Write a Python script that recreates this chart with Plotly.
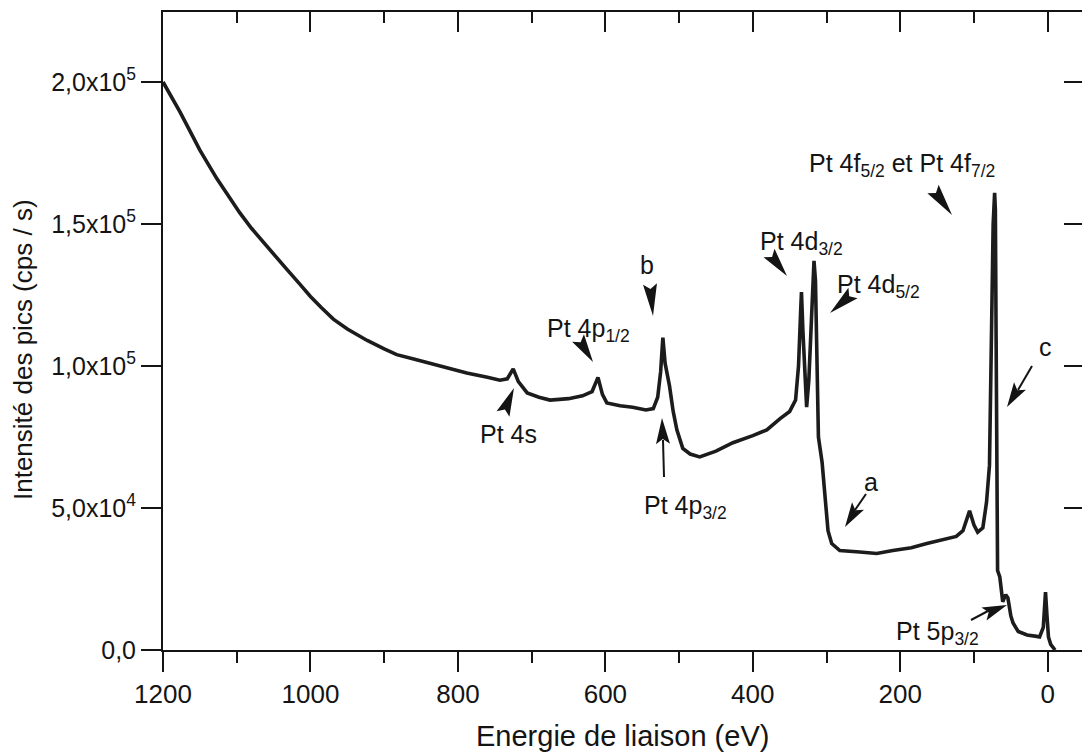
import math
import plotly.graph_objects as go

# ---------------- data ----------------
energy_ev = [1200, 1190, 1177, 1163, 1150, 1127, 1110, 1096, 1080, 1059, 1045, 1032, 1015,
             1000, 985, 969, 950, 923, 900, 883, 860, 834, 810, 788, 760, 743, 733, 725,
             718, 706, 690, 675, 650, 631, 618, 610, 604, 598, 580, 563, 545, 535, 529,
             525, 522, 519, 513, 508, 503, 495, 485, 472, 450, 427, 400, 381, 363, 350,
             342, 338, 335, 334, 332, 329, 327, 324, 320, 317, 315, 313, 311, 306, 302,
             298, 293, 282, 255, 232, 210, 185, 164, 140, 124, 115, 106, 100, 95, 88,
             83, 79, 76, 74, 72, 71, 70, 69, 68, 65, 61, 57, 54, 50, 47, 40, 28, 15, 11,
             6, 4, 3, 1, -1, -4, -7, -10]
intensity_cps = [200000, 195500, 189500, 182500, 176000, 166000, 159500, 154000, 148500,
                 142000, 138000, 134000, 129000, 124500, 120500, 116500, 113000, 109000,
                 106000, 104000, 102500, 100800, 99000, 97500, 96000, 95000, 95500, 99000,
                 94500, 90500, 89000, 88000, 88500, 89500, 91000, 96000, 90000, 87000,
                 86000, 85500, 84500, 85000, 89000, 98000, 110000, 101000, 93000, 84000,
                 77500, 71000, 69000, 68000, 70000, 73000, 75500, 77500, 81500, 84000,
                 88000, 100000, 120000, 126000, 112000, 92000, 85500, 95000, 120000,
                 137000, 130000, 95000, 75000, 66000, 54000, 42000, 37500, 35000, 34500,
                 34000, 35000, 36000, 37500, 39000, 40000, 42000, 49000, 44000, 41500,
                 43000, 52000, 65000, 110000, 150000, 161000, 155000, 110000, 50000, 28000,
                 25700, 17000, 19500, 18300, 12000, 9500, 6500, 5300, 4800, 4600, 8000,
                 15000, 20400, 12000, 4600, 2000, 800, 0]

x_tick_vals = [1200, 1000, 800, 600, 400, 200, 0]
x_tick_text = ["1200", "1000", "800", "600", "400", "200", "0"]
x_minor_vals = [1100, 900, 700, 500, 300, 100]
y_tick_vals = [0, 50000, 100000, 150000, 200000]
y_tick_text = ["0,0", "5,0x10<sup>4</sup>", "1,0x10<sup>5</sup>",
               "1,5x10<sup>5</sup>", "2,0x10<sup>5</sup>"]

x_title = "Energie de liaison (eV)"
y_title = "Intensité des pics (cps / s)"

# ---------------- layout geometry ----------------
W, H = 1082, 755
ML, MR, MT, MB = 163, 0, 12, 105
PW, PH = W - ML - MR, H - MT - MB
X_RANGE = [1200, -46.5]
Y_RANGE = [0, 224650]
INK = "#141414"
FONT = "Liberation Sans, Arial, Helvetica, sans-serif"


def paper(xp, yp):
    return (xp - ML) / PW, (H - MB - yp) / PH


def wedge(tip, base, half=7.0, notch=5.0):
    tx, ty = tip
    bx, by = base
    dx, dy = tx - bx, ty - by
    L = math.hypot(dx, dy)
    ux, uy = dx / L, dy / L
    nx, ny = -uy, ux
    pts = [tip, (bx + nx * half, by + ny * half), (bx + ux * notch, by + uy * notch),
           (bx - nx * half, by - ny * half)]
    path = "M " + " L ".join("%.5f,%.5f" % paper(*p) for p in pts) + " Z"
    return dict(type="path", xref="paper", yref="paper", path=path,
                fillcolor=INK, line=dict(width=0), layer="above")


def seg(p0, p1, w=2):
    a = paper(*p0)
    b = paper(*p1)
    return dict(type="line", xref="paper", yref="paper", x0=a[0], y0=a[1], x1=b[0], y1=b[1],
                line=dict(color=INK, width=w), layer="above")


def label(text, xp, yp, size=25, **kw):
    px, py = paper(xp, yp)
    d = dict(text=text, x=px, y=py, xref="paper", yref="paper", showarrow=False,
             xanchor="center", yanchor="middle", font=dict(family=FONT, size=size, color=INK))
    d.update(kw)
    return d


fig = go.Figure()
fig.add_trace(go.Scatter(x=energy_ev, y=intensity_cps, mode="lines",
                         line=dict(color="#1c1c1c", width=3.6), showlegend=False,
                         hoverinfo="skip"))
# invisible twin so the mirrored (top / right) axes are drawn
fig.add_trace(go.Scatter(x=energy_ev, y=intensity_cps, mode="lines", xaxis="x2", yaxis="y2",
                         line=dict(width=0), opacity=0, showlegend=False, hoverinfo="skip"))

axis_common = dict(showgrid=False, zeroline=False, linecolor=INK, linewidth=2,
                   tickcolor=INK, tickwidth=2)

fig.update_layout(
    width=W, height=H,
    margin=dict(l=ML, r=MR, t=MT, b=MB, pad=0),
    paper_bgcolor="white", plot_bgcolor="white",
    font=dict(family=FONT, color=INK),
    showlegend=False,
    xaxis=dict(range=X_RANGE, tickmode="array", tickvals=x_tick_vals, ticktext=x_tick_text,
               ticks="outside", ticklen=20, showline=True,
               tickfont=dict(family=FONT, size=26, color=INK),
               minor=dict(tickmode="array", tickvals=x_minor_vals, ticks="outside",
                          ticklen=11, tickwidth=2, tickcolor=INK),
               **axis_common),
    xaxis2=dict(range=X_RANGE, overlaying="x", side="top", anchor="y",
                tickmode="array", tickvals=x_tick_vals, ticks="inside", ticklen=20,
                showticklabels=False, showline=True,
                minor=dict(tickmode="array", tickvals=x_minor_vals, ticks="inside",
                           ticklen=11, tickwidth=2, tickcolor=INK),
                **axis_common),
    yaxis=dict(range=Y_RANGE, tickmode="array", tickvals=y_tick_vals, ticktext=y_tick_text,
               ticks="outside", ticklen=20, showline=True,
               tickfont=dict(family=FONT, size=25, color=INK),
               **axis_common),
    yaxis2=dict(range=Y_RANGE, overlaying="y", side="right", anchor="x",
                tickmode="array", tickvals=y_tick_vals, ticks="inside", ticklen=18,
                showticklabels=False, showline=False,
                **axis_common),
)

annotations = [
    label(x_title, 622, 736, size=29),
    label(y_title, 23, 350, size=26, textangle=-90),
    label("Pt 4s", 508, 434),
    label("Pt 4p<sub>1/2</sub>", 588, 330),
    label("b", 647, 265),
    label("Pt 4p<sub>3/2</sub>", 685, 507),
    label("Pt 4d<sub>3/2</sub>", 801, 243),
    label("Pt 4d<sub>5/2</sub>", 878, 286),
    label("Pt 4f<sub>5/2</sub> et Pt 4f<sub>7/2</sub>", 902, 165),
    label("c", 1045, 347),
    label("a", 871, 482),
    label("Pt 5p<sub>3/2</sub>", 937, 633),
]

shapes = [
    wedge((514, 388), (503, 414)),            # Pt 4s
    wedge((593, 362), (578, 338)),            # Pt 4p1/2
    wedge((653, 316), (650, 284)),            # b
    seg((663, 440), (664, 477)),              # Pt 4p3/2 shaft
    wedge((662, 418), (663, 444)),            # Pt 4p3/2 head
    wedge((787, 276), (769, 253)),            # Pt 4d3/2
    wedge((830, 313), (853, 293)),            # Pt 4d5/2
    wedge((952, 215), (933, 189)),            # Pt 4f
    seg((855, 510), (866, 494)),              # a shaft
    wedge((845, 527), (858, 506)),            # a head
    seg((1018, 390), (1032, 366)),            # c shaft
    wedge((1007, 407), (1020, 386)),          # c head
    seg((988, 611), (971, 620)),              # Pt 5p3/2 shaft
    wedge((1007, 605), (984, 614)),           # Pt 5p3/2 head
]

fig.update_layout(annotations=annotations, shapes=shapes)
fig.write_html(
    "out.html",
    config={"displayModeBar": False, "staticPlot": True},
    post_script="document.body.style.margin='0px';document.body.style.padding='0px';"
                "document.body.style.overflow='hidden';",
)
